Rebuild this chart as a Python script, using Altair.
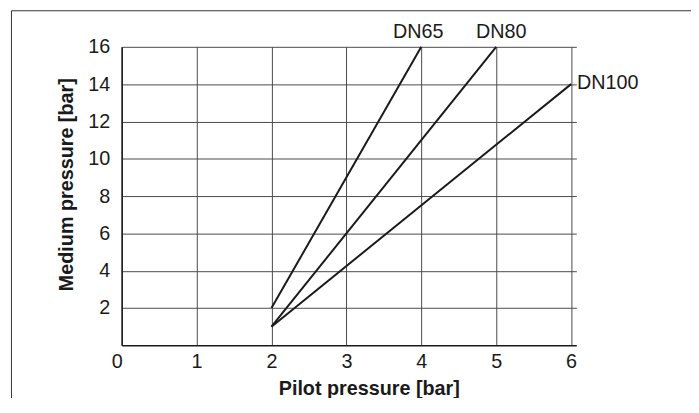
import altair as alt
import pandas as pd

# ---- data ----
series = ["DN65", "DN80", "DN100"]
pilot_start = [2, 2, 2]
medium_start = [2, 1, 1]
pilot_end = [4, 5, 6]
medium_end = [16, 16, 14]
x_ticks = [0, 1, 2, 3, 4, 5, 6]
y_ticks = [2, 4, 6, 8, 10, 12, 14, 16]

rows = []
for s, x0, y0, x1, y1 in zip(series, pilot_start, medium_start, pilot_end, medium_end):
    rows.append({"series": s, "pilot": x0, "medium": y0, "order": 0})
    rows.append({"series": s, "pilot": x1, "medium": y1, "order": 1})
lines_df = pd.DataFrame(rows)
labels_df = pd.DataFrame({"series": series, "pilot": pilot_end, "medium": medium_end})

FONT = "Liberation Sans"
INK = "#1a1a1a"
GRID = "#4a4a4a"

xscale = alt.Scale(domain=[0, 6.07], nice=False, zero=False)
yscale = alt.Scale(domain=[0, 16], nice=False, zero=False)

x_axis = alt.Axis(
    values=x_ticks, format="d", labelFlush=False,
    grid=True, gridColor=GRID, gridWidth=1, gridOpacity=1,
    ticks=False, domainColor=INK, domainWidth=1.5,
    labelFont=FONT, labelFontSize=20, labelColor=INK, labelPadding=6,
    labelOffset={"condition": {"test": "datum.value === 0", "value": -5}, "value": 0},
    title="Pilot pressure [bar]", titleFont=FONT, titleFontSize=20,
    titleFontWeight="bold", titleColor=INK, titleX=250, titleY=34,
    titleAlign="center", titleBaseline="top",
)
y_axis = alt.Axis(
    values=y_ticks, format="d", labelFlush=False,
    grid=True, gridColor=GRID, gridWidth=1, gridOpacity=1,
    ticks=False, domainColor=INK, domainWidth=1.5,
    labelFont=FONT, labelFontSize=20, labelColor=INK, labelPadding=12,
    title="Medium pressure [bar]", titleFont=FONT, titleFontSize=20,
    titleFontWeight="bold", titleColor=INK, titleX=-46, titleY=139,
    titleAngle=270, titleAlign="center", titleBaseline="bottom",
)

lines = alt.Chart(lines_df).mark_line(color=INK, strokeWidth=2).encode(
    x=alt.X("pilot:Q", scale=xscale, axis=x_axis),
    y=alt.Y("medium:Q", scale=yscale, axis=y_axis),
    detail="series:N",
    order="order:Q",
)

def label_layer(name, align, baseline, dx, dy):
    return alt.Chart(labels_df).transform_filter(
        alt.datum.series == name
    ).mark_text(
        font=FONT, fontSize=20, color=INK, align=align, baseline=baseline, dx=dx, dy=dy
    ).encode(
        x=alt.X("pilot:Q", scale=xscale),
        y=alt.Y("medium:Q", scale=yscale),
        text="series:N",
    )

lab65 = label_layer("DN65", "center", "alphabetic", -3, -9)
lab80 = label_layer("DN80", "center", "alphabetic", 5, -9)
lab100 = label_layer("DN100", "left", "middle", 6, -1)

frame_df = pd.DataFrame({"a": [0]})
frame_left = alt.Chart(frame_df).mark_rule(color="#333333", strokeWidth=1).encode(
    x=alt.value(-111.5), y=alt.value(-36.5), y2=alt.value(360)
)
frame_top = alt.Chart(frame_df).mark_rule(color="#333333", strokeWidth=1).encode(
    x=alt.value(-111.5), x2=alt.value(600), y=alt.value(-36.5)
)

chart = alt.layer(frame_left, frame_top, lines, lab65, lab80, lab100).properties(
    width=460, height=302,
    padding={"left": 115, "top": 37, "right": 116, "bottom": 51},
    autosize=alt.AutoSizeParams(type="none"),
    background="white",
).configure_view(stroke=None)

chart.save("out.html", embed_options={"renderer": "svg", "actions": False})
